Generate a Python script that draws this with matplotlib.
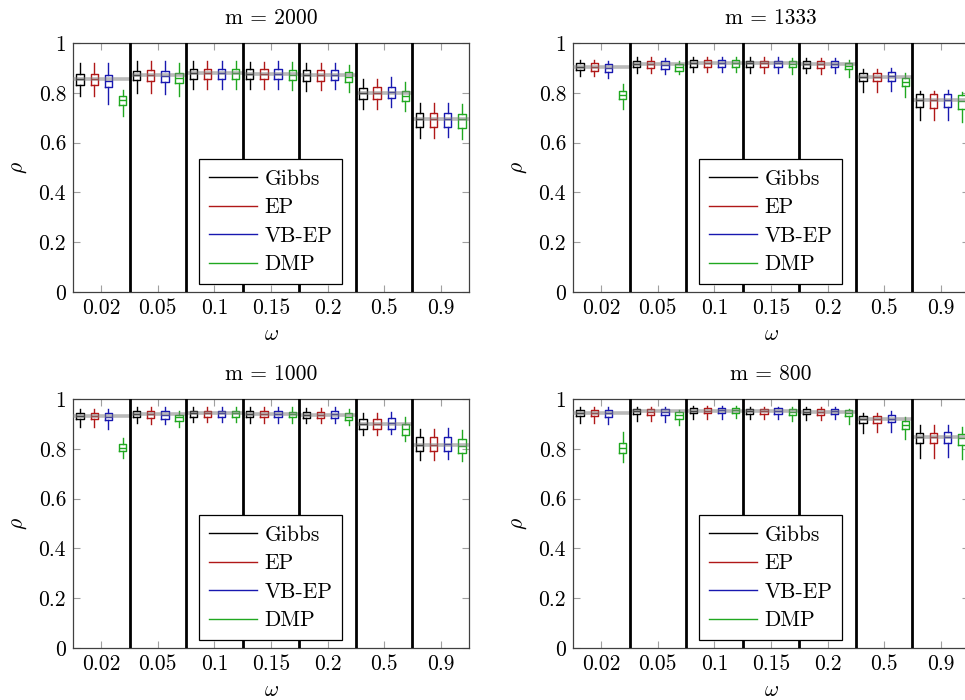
import matplotlib
matplotlib.use("Agg")
import matplotlib.pyplot as plt
from matplotlib.lines import Line2D

plt.rcParams['font.family'] = ['cmr10', 'DejaVu Serif']
plt.rcParams['mathtext.fontset'] = 'cm'
plt.rcParams['axes.formatter.use_mathtext'] = True

omega_labels = ["0.02", "0.05", "0.1", "0.15", "0.2", "0.5", "0.9"]
methods = ["Gibbs", "EP", "VB-EP", "DMP"]
method_colors = ["#000000", "#b01818", "#1818b0", "#20a820"]
y_ticks = [0, 0.2, 0.4, 0.6, 0.8, 1.0]
y_tick_labels = ["0", "0.2", "0.4", "0.6", "0.8", "1"]
titles = ["m = 2000", "m = 1333", "m = 1000", "m = 800"]

# each row: one omega group; each column: Gibbs, EP, VB-EP, DMP
# ---------------- m = 2000 ----------------
m2000_hi = [[0.918, 0.918, 0.918, 0.811], [0.926, 0.926, 0.926, 0.918], [0.926, 0.926, 0.926, 0.926],
            [0.924, 0.924, 0.926, 0.924], [0.918, 0.918, 0.921, 0.913], [0.857, 0.857, 0.862, 0.843],
            [0.760, 0.760, 0.760, 0.755]]
m2000_q3 = [[0.874, 0.875, 0.870, 0.787], [0.889, 0.892, 0.889, 0.878], [0.896, 0.896, 0.896, 0.894],
            [0.894, 0.894, 0.894, 0.892], [0.890, 0.890, 0.892, 0.884], [0.819, 0.822, 0.825, 0.809],
            [0.717, 0.717, 0.720, 0.715]]
m2000_med = [[0.854, 0.854, 0.849, 0.770], [0.871, 0.871, 0.867, 0.859], [0.878, 0.878, 0.878, 0.878],
             [0.875, 0.875, 0.875, 0.873], [0.870, 0.870, 0.871, 0.865], [0.800, 0.800, 0.805, 0.787],
             [0.696, 0.696, 0.696, 0.693]]
m2000_q1 = [[0.831, 0.830, 0.822, 0.750], [0.851, 0.849, 0.843, 0.841], [0.857, 0.857, 0.857, 0.857],
            [0.854, 0.854, 0.854, 0.851], [0.849, 0.849, 0.851, 0.843], [0.776, 0.776, 0.779, 0.766],
            [0.664, 0.664, 0.664, 0.659]]
m2000_lo = [[0.788, 0.788, 0.754, 0.708], [0.800, 0.800, 0.794, 0.788], [0.817, 0.817, 0.817, 0.817],
            [0.817, 0.817, 0.817, 0.811], [0.809, 0.811, 0.814, 0.803], [0.736, 0.736, 0.744, 0.726],
            [0.618, 0.618, 0.621, 0.616]]

# ---------------- m = 1333 ----------------
m1333_hi = [[0.932, 0.932, 0.929, 0.834], [0.942, 0.942, 0.941, 0.926], [0.945, 0.945, 0.945, 0.942],
            [0.942, 0.942, 0.942, 0.940], [0.940, 0.940, 0.940, 0.932], [0.894, 0.894, 0.900, 0.878],
            [0.809, 0.809, 0.811, 0.803]]
m1333_q3 = [[0.918, 0.920, 0.914, 0.807], [0.929, 0.929, 0.926, 0.914], [0.932, 0.932, 0.933, 0.932],
            [0.929, 0.929, 0.929, 0.926], [0.926, 0.926, 0.928, 0.921], [0.878, 0.881, 0.884, 0.859],
            [0.794, 0.794, 0.794, 0.790]]
m1333_med = [[0.905, 0.905, 0.901, 0.791], [0.917, 0.917, 0.913, 0.902], [0.921, 0.921, 0.921, 0.921],
             [0.918, 0.918, 0.918, 0.916], [0.916, 0.916, 0.917, 0.908], [0.865, 0.865, 0.869, 0.845],
             [0.771, 0.771, 0.771, 0.768]]
m1333_q1 = [[0.892, 0.889, 0.884, 0.775], [0.902, 0.901, 0.897, 0.889], [0.905, 0.905, 0.905, 0.905],
            [0.905, 0.905, 0.905, 0.902], [0.901, 0.901, 0.902, 0.894], [0.847, 0.846, 0.849, 0.827],
            [0.743, 0.740, 0.742, 0.736]]
m1333_lo = [[0.867, 0.867, 0.858, 0.734], [0.881, 0.879, 0.877, 0.874], [0.884, 0.884, 0.884, 0.884],
            [0.881, 0.881, 0.881, 0.875], [0.878, 0.875, 0.878, 0.862], [0.802, 0.805, 0.809, 0.784],
            [0.691, 0.691, 0.691, 0.684]]

# ---------------- m = 1000 ----------------
m1000_hi = [[0.961, 0.961, 0.958, 0.842], [0.967, 0.967, 0.967, 0.953], [0.969, 0.969, 0.969, 0.969],
            [0.967, 0.967, 0.968, 0.967], [0.964, 0.964, 0.967, 0.958], [0.942, 0.945, 0.948, 0.926],
            [0.881, 0.881, 0.884, 0.876]]
m1000_q3 = [[0.942, 0.944, 0.942, 0.819], [0.952, 0.952, 0.950, 0.937], [0.953, 0.953, 0.953, 0.953],
            [0.952, 0.952, 0.953, 0.949], [0.949, 0.949, 0.950, 0.942], [0.918, 0.920, 0.924, 0.900],
            [0.846, 0.846, 0.849, 0.838]]
m1000_med = [[0.932, 0.932, 0.929, 0.805], [0.940, 0.940, 0.937, 0.926], [0.942, 0.942, 0.942, 0.942],
             [0.940, 0.940, 0.940, 0.938], [0.937, 0.937, 0.938, 0.929], [0.900, 0.900, 0.902, 0.878],
             [0.817, 0.817, 0.819, 0.811]]
m1000_q1 = [[0.920, 0.918, 0.914, 0.790], [0.926, 0.925, 0.921, 0.913], [0.929, 0.929, 0.929, 0.929],
            [0.928, 0.928, 0.928, 0.926], [0.924, 0.924, 0.925, 0.916], [0.878, 0.878, 0.881, 0.857],
            [0.790, 0.790, 0.793, 0.785]]
m1000_lo = [[0.889, 0.889, 0.881, 0.763], [0.902, 0.901, 0.898, 0.889], [0.908, 0.908, 0.908, 0.908],
            [0.905, 0.905, 0.905, 0.902], [0.902, 0.902, 0.905, 0.894], [0.854, 0.854, 0.859, 0.833],
            [0.755, 0.755, 0.758, 0.750]]

# ---------------- m = 800 ----------------
m800_hi = [[0.967, 0.967, 0.967, 0.869], [0.969, 0.967, 0.967, 0.956], [0.972, 0.972, 0.972, 0.972],
           [0.969, 0.969, 0.969, 0.969], [0.967, 0.967, 0.967, 0.961], [0.945, 0.945, 0.950, 0.929],
           [0.894, 0.894, 0.897, 0.889]]
m800_q3 = [[0.956, 0.956, 0.956, 0.822], [0.961, 0.961, 0.960, 0.948], [0.964, 0.964, 0.965, 0.964],
           [0.961, 0.961, 0.962, 0.960], [0.960, 0.960, 0.961, 0.954], [0.932, 0.933, 0.936, 0.913],
           [0.865, 0.865, 0.867, 0.859]]
m800_med = [[0.945, 0.945, 0.942, 0.802], [0.950, 0.949, 0.948, 0.937], [0.953, 0.953, 0.954, 0.954],
            [0.952, 0.950, 0.952, 0.948], [0.949, 0.949, 0.950, 0.944], [0.918, 0.918, 0.921, 0.897],
            [0.846, 0.846, 0.846, 0.842]]
m800_q1 = [[0.933, 0.933, 0.929, 0.782], [0.938, 0.937, 0.936, 0.921], [0.942, 0.942, 0.942, 0.942],
           [0.940, 0.940, 0.940, 0.937], [0.938, 0.937, 0.938, 0.932], [0.905, 0.902, 0.906, 0.878],
           [0.822, 0.822, 0.822, 0.814]]
m800_lo = [[0.902, 0.902, 0.898, 0.748], [0.910, 0.910, 0.908, 0.894], [0.918, 0.918, 0.918, 0.924],
           [0.921, 0.918, 0.921, 0.910], [0.916, 0.916, 0.918, 0.900], [0.865, 0.867, 0.869, 0.841],
           [0.764, 0.764, 0.766, 0.758]]

panels = [
    (m2000_hi, m2000_q3, m2000_med, m2000_q1, m2000_lo),
    (m1333_hi, m1333_q3, m1333_med, m1333_q1, m1333_lo),
    (m1000_hi, m1000_q3, m1000_med, m1000_q1, m1000_lo),
    (m800_hi, m800_q3, m800_med, m800_q1, m800_lo),
]

W, H = 965, 700
fig = plt.figure(figsize=(W / 100, H / 100), dpi=100)

ax_px = [(73, 43), (573, 43), (73, 399), (573, 399)]
ax_w, ax_h = 396, 249
offsets = [-0.375, -0.125, 0.125, 0.375]
box_w = 0.13
FS = 15.5

for p, (hi, q3, med, q1, lo) in enumerate(panels):
    x0, y0 = ax_px[p]
    ax = fig.add_axes([x0 / W, 1 - (y0 + ax_h) / H, ax_w / W, ax_h / H])
    ngroups = len(omega_labels)
    for g in range(ngroups):
        for k in range(len(methods)):
            stats = [dict(med=med[g][k], q1=q1[g][k], q3=q3[g][k],
                          whislo=lo[g][k], whishi=hi[g][k], fliers=[])]
            c = method_colors[k]
            ax.bxp(stats, positions=[g + 1 + offsets[k]], widths=box_w,
                   showcaps=False, showfliers=False, manage_ticks=False,
                   boxprops=dict(color=c, lw=1.0),
                   whiskerprops=dict(color=c, lw=1.0),
                   medianprops=dict(color=c, lw=1.0))
        # reference line at Gibbs median across the group
        ax.hlines(med[g][0], g + 0.5, g + 1.5, colors='gray', alpha=0.55,
                  lw=2.6, zorder=4)
    for g in range(1, ngroups):
        ax.axvline(g + 0.5, color='black', lw=2.0, zorder=5)

    ax.set_xlim(0.5, ngroups + 0.5)
    ax.set_ylim(0, 1)
    ax.set_xticks(range(1, ngroups + 1))
    ax.set_xticklabels(omega_labels)
    ax.set_yticks(y_ticks)
    ax.set_yticklabels(y_tick_labels)
    ax.tick_params(direction='in', length=5, width=0.8, color='#a0a0a0',
                   top=True, right=True, labelsize=FS, pad=5)
    for s in ax.spines.values():
        s.set_color('#404040')
        s.set_linewidth(0.9)
    ax.set_title(titles[p], fontsize=FS, pad=14)
    ax.set_xlabel(r'$\omega$', fontsize=FS, labelpad=4)
    ax.set_ylabel(r'$\rho$', fontsize=FS, labelpad=7)

    handles = [Line2D([], [], color=c, lw=1.0) for c in method_colors]
    leg = ax.legend(handles, methods, loc='lower left',
                    bbox_to_anchor=(0.318, 0.032), borderaxespad=0,
                    fontsize=FS, frameon=True, fancybox=False,
                    edgecolor='black', framealpha=1, handlelength=2.25,
                    handletextpad=0.35, labelspacing=0.42, borderpad=0.45)
    leg.get_frame().set_linewidth(0.9)
    leg.set_zorder(10)

fig.savefig("out.png", dpi=100)
